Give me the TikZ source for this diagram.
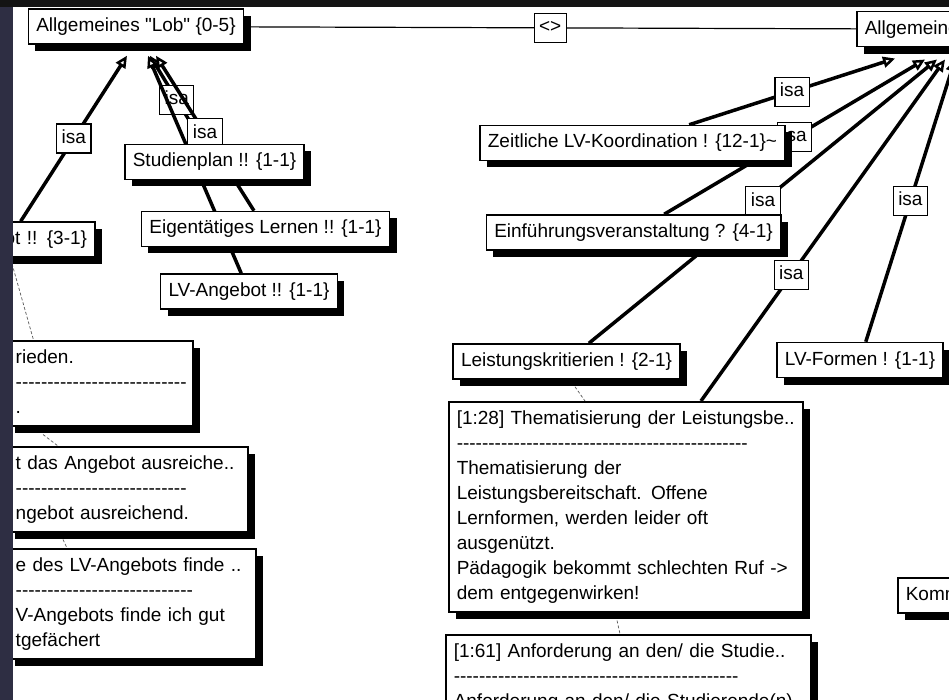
\documentclass[tikz,border=0pt]{standalone}
\usepackage{fontspec}
\newfontfamily\uifont{Liberation Sans}
\usetikzlibrary{arrows.meta,shadows}
\pgfdeclarelayer{back}
\pgfdeclarelayer{edges}
\pgfdeclarelayer{front}
\pgfsetlayers{back,edges,main,front}
\newcommand{\dashrow}[1]{\mbox{\foreach \k in {1,...,#1}{-}}}

\begin{document}
\begin{tikzpicture}[x=1pt,y=-1pt,
    every node/.style={font=\uifont\fontsize{19}{25}\selectfont,
        execute at begin node=\strut, execute at end node=\strut},
    code/.style={draw=black, line width=1.5pt, fill=white, inner xsep=8pt, inner ysep=5pt,
        general shadow={fill=black, shadow xshift=7pt, shadow yshift=-7pt}},
    quote/.style={code, anchor=north west, align=left},
    tag/.style={draw=black, line width=1.2pt, fill=white, inner xsep=5pt, inner ysep=2pt},
    isaline/.style={line width=3.5pt, -{Triangle[fill=white, length=12pt, width=11pt, line width=2.5pt]}},
    link/.style={draw=black!65, line width=0.7pt, double=white, double distance=1.8pt, dash pattern=on 3pt off 2pt}]

    \useasboundingbox (0,0) rectangle (949,700);
    \begin{pgfonlayer}{back}
        \fill[white] (0,0) rectangle (949,700);
    \end{pgfonlayer}

    \node[code] (lob) at (136,26.5) {Allgemeines "Lob" \{0-5\}};
    \node[code, anchor=north west, text width=214pt, align=left] (krit) at (856,11) {Allgemeine};

    \node[code, text width=156pt, align=right] (n31) at (9,239.5) {ot !! \{3-1\}};
    \node[code] (stud) at (214.5,162) {Studienplan !! \{1-1\}};
    \node[code] (eig) at (265.5,229) {Eigentätiges Lernen !! \{1-1\}};
    \node[code] (lva) at (249,291.5) {LV-Angebot !! \{1-1\}};

    \node[quote, text width=169pt] (c1) at (7,340) {rieden.\\ \dashrow{27}\\ .};
    \node[quote, text width=224pt] (c2) at (7,446) {t das Angebot ausreiche..\\ \dashrow{27}\\ ngebot ausreichend.};
    \node[quote, text width=232pt] (c3) at (7,548) {e des LV-Angebots finde ..\\ \dashrow{28}\\ V-Angebots finde ich gut\\ tgefächert};

    \node[code] (zeit) at (632.5,143) {Zeitliche LV-Koordination ! \{12-1\}\textasciitilde};
    \node[code] (einf) at (633.5,232.5) {Einführungsveranstaltung ? \{4-1\}};
    \node[code] (leist) at (566.5,361.5) {Leistungskritierien ! \{2-1\}};
    \node[code] (lvf) at (860,360) {LV-Formen ! \{1-1\}};
    \node[code, anchor=north west, text width=120pt, align=left] (komm) at (897,577) {Komm};

    \node[quote, text width=338pt] (q28) at (448,401) {[1:28] Thematisierung der Leistungsbe..\\ \dashrow{46}\\ Thematisierung der\\ Leistungsbereitschaft. Offene\\ Lernformen, werden leider oft\\ ausgenützt.\\ Pädagogik bekommt schlechten Ruf ->\\ dem entgegenwirken!};
    \node[quote, text width=349pt] (q61) at (445,634) {[1:61] Anforderung an den/ die Studie..\\ \dashrow{45}\\ Anforderung an den/ die Studierende(n)};

    \begin{pgfonlayer}{edges}
        \path[line width=1.2pt] (lob) edge node[tag] {<>} (krit);

        \path[isaline] (stud) edge node[tag] {isa} ([xshift=14pt,yshift=-11pt]lob.south);
        \path[isaline] (eig) edge node[tag] {isa} ([xshift=20pt,yshift=-11pt]lob.south);
        \path[isaline] (lva) edge node[tag] {isa} ([xshift=12pt,yshift=-11pt]lob.south);
        \path[isaline] (n31) edge node[tag] {isa} ([xshift=-9pt,yshift=-11pt]lob.south);

        \path[isaline] (zeit) edge node[tag] {isa} ([xshift=39pt,yshift=-11pt]krit.south west);
        \path[isaline] (einf) edge node[tag] {isa} ([xshift=69pt,yshift=-12pt]krit.south west);
        \path[isaline] (leist) edge node[tag] {isa} ([xshift=81pt,yshift=-12pt]krit.south west);
        \path[isaline] (q28) edge node[tag, pos=0.37] {isa} ([xshift=89pt,yshift=-12pt]krit.south west);
        \path[isaline] (lvf) edge node[tag] {isa} ([xshift=99pt,yshift=-12pt]krit.south west);

        \path[link] ([xshift=3pt,yshift=-6pt]n31.south) edge ([xshift=26.5pt]c1.north west);
        \path[link] ([xshift=36pt,yshift=-8pt]c1.south west) edge ([xshift=51pt]c2.north west);
        \path[link] ([xshift=56pt,yshift=-7pt]c2.south west) edge ([xshift=60pt]c3.north west);
        \path[link] ([xshift=8.5pt,yshift=-7pt]leist.south) edge ([xshift=137pt]q28.north west);
        \path[link] ([xshift=169pt,yshift=-8pt]q28.south west) edge ([xshift=175pt]q61.north west);
    \end{pgfonlayer}

    \begin{pgfonlayer}{front}
        \fill[black!92] (0,0) rectangle (949,7);
        \fill[blue!10!black!82] (0,7) rectangle (13,700);
    \end{pgfonlayer}
\end{tikzpicture}
\end{document}
